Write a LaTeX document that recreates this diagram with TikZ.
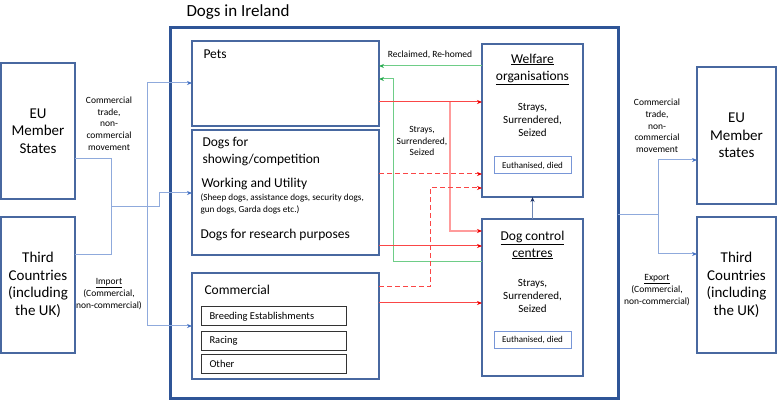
\documentclass[tikz,border=0pt]{standalone}
\usepackage{fontspec}
\setmainfont{Carlito}
\usetikzlibrary{arrows.meta}
\definecolor{frameblue}{RGB}{47,85,151}
\definecolor{boxblue}{RGB}{72,104,160}
\definecolor{lineblue}{RGB}{143,170,220}
\definecolor{arrowblue}{RGB}{68,114,196}
\definecolor{euthblue}{RGB}{120,150,215}
\definecolor{myred}{RGB}{250,70,70}
\definecolor{tipred}{RGB}{240,0,0}
\definecolor{mypink}{RGB}{255,155,155}
\definecolor{mygreen}{RGB}{110,205,135}
\definecolor{tipgreen}{RGB}{40,170,80}
\definecolor{mynavy}{RGB}{25,45,95}
\tikzset{
  box/.style={draw=boxblue, line width=1.2pt, rectangle, outer sep=0pt, inner sep=0pt},
  innerbox/.style={draw=black!80, line width=1pt, rectangle, outer sep=0pt, inner sep=0pt},
  euthbox/.style={draw=euthblue, line width=1pt, rectangle, outer sep=0pt, inner sep=0pt, font=\fontsize{9}{10}\selectfont},
  bline/.style={color=lineblue, line width=1pt},
  btip/.style={-{Stealth[length=5pt,width=4pt,color=arrowblue]}},
  rline/.style={color=myred, line width=1pt, -{Stealth[length=5pt,width=4pt,color=tipred]}},
  rdash/.style={color=myred, line width=1pt, -{Stealth[length=5pt,width=4pt,color=tipred]}, dash pattern=on 5pt off 3pt},
  pline/.style={color=mypink, line width=1.3pt, -{Stealth[length=5pt,width=4pt,color=tipred]}},
  gline/.style={color=mygreen, line width=1pt, -{Stealth[length=5pt,width=4pt,color=tipgreen]}},
  big/.style={font=\fontsize{15}{17.5}\selectfont},
  mid/.style={font=\fontsize{13.5}{17}\selectfont},
  lab/.style={font=\fontsize{9.5}{11.7}\selectfont, align=center},
  small/.style={font=\fontsize{9.2}{12}\selectfont, align=left}
}
\begin{document}
\begin{tikzpicture}[x=1pt,y=-1pt]
\useasboundingbox (0,0) rectangle (777,406);
% title and frame
\node[font=\fontsize{17}{20}\selectfont, anchor=west] (title) at (183,12) {Dogs in Ireland};
\node[draw=frameblue, line width=3pt, rectangle, outer sep=0pt, inner sep=0pt, anchor=north west, minimum width=448pt, minimum height=370pt] (frame) at (170,28) {};
% left boxes
\node[box, big, align=center, minimum width=74pt, minimum height=136pt] (eul) at (38,131) {EU\\Member\\States};
\node[box, big, align=center, minimum width=74pt, minimum height=136pt] (tcl) at (38,285) {Third\\Countries\\(including\\the UK)};
% right boxes
\node[box, big, align=center, minimum width=79pt, minimum height=137pt] (eur) at (736.5,135.5) {EU\\Member\\states};
\node[box, big, align=center, minimum width=79pt, minimum height=136pt] (tcr) at (736.5,285) {Third\\Countries\\(including\\the UK)};
% inner boxes
\node[box, anchor=north west, minimum width=187pt, minimum height=85pt] (pets) at (192,41) {};
\node[box, anchor=north west, minimum width=187pt, minimum height=125pt] (dogs) at (192,130) {};
\node[box, anchor=north west, minimum width=187pt, minimum height=106pt] (comm) at (192,273) {};
\node[mid, anchor=west] (petst) at (200,54) {Pets};
\node[mid, anchor=west, align=left] (showt) at (199,151.5) {Dogs for\\showing/competition};
\node[mid, anchor=west] (workt) at (198,184) {Working and Utility};
\node[small, anchor=west] (workd) at (197,204) {(Sheep dogs, assistance dogs, security dogs,\\gun dogs, Garda dogs etc.)};
\node[mid, anchor=west] (rest) at (197,235) {Dogs for research purposes};
\node[mid, anchor=west] (commt) at (201,290) {Commercial};
\node[innerbox, anchor=north west, minimum width=145pt, minimum height=19pt] (breed) at (201,307) {};
\node[innerbox, anchor=north west, minimum width=145pt, minimum height=19pt] (racing) at (201,331) {};
\node[innerbox, anchor=north west, minimum width=145pt, minimum height=19pt] (other) at (201,354) {};
\node[font=\fontsize{10.5}{12}\selectfont, anchor=west] at ([xshift=5pt]breed.west) {Breeding Establishments};
\node[font=\fontsize{10.5}{12}\selectfont, anchor=west] at ([xshift=5pt]racing.west) {Racing};
\node[font=\fontsize{10.5}{12}\selectfont, anchor=west] at ([xshift=5pt]other.west) {Other};
% welfare and dog control
\node[box, anchor=north west, minimum width=101pt, minimum height=153pt] (welf) at (482,44) {};
\node[box, anchor=north west, minimum width=101pt, minimum height=157pt] (dcc) at (482,219) {};
\node[mid, align=center] (welft) at (532.5,69) {\underline{Welfare}\\\underline{organisations}};
\node[font=\fontsize{11}{12.8}\selectfont, align=center] (welfs) at (532.5,120) {Strays,\\Surrendered,\\Seized};
\node[euthbox, minimum width=77pt, minimum height=17pt] (welfe) at (532.5,165.5) {Euthanised, died};
\node[mid, align=center] (dcct) at (532.5,245) {\underline{Dog control}\\\underline{centres}};
\node[font=\fontsize{11}{12.8}\selectfont, align=center] (dccs) at (532.5,296) {Strays,\\Surrendered,\\Seized};
\node[euthbox, minimum width=77pt, minimum height=17pt] (dcce) at (532.5,339.5) {Euthanised, died};
% labels
\node[lab] (labl) at (109,123.5) {Commercial\\trade,\\non-\\commercial\\movement};
\node[lab] (impl) at (109,294) {\underline{Import}\\(Commercial,\\non-commercial)};
\node[lab] (labr) at (657,126) {Commercial\\trade,\\non-\\commercial\\movement};
\node[lab] (expr) at (657,290) {\underline{Export}\\(Commercial,\\non-commercial)};
\node[lab] (recl) at (430,55) {Reclaimed, Re-homed};
\node[lab] (ssl) at (422,141) {Strays,\\Surrendered,\\Seized};
% left import connectors
\coordinate (a1) at (111,159);
\coordinate (a2) at (111,255);
\coordinate (a3) at (159,207);
\coordinate (a4) at (147,83);
\coordinate (a5) at (147,326);
\coordinate (a6) at (159,193);
\draw[bline] (a1 -| eul.east) -- (a1) -- (a2) -- (a2 -| tcl.east);
\draw[bline] (111,207) -- (a3);
\draw[bline, btip] (a3) -- (a6) -- (a6 -| dogs.west);
\draw[bline, btip] (a4) -- (a4 -| pets.west);
\draw[bline] (a4) -- (a5);
\draw[bline, btip] (a5) -- (a5 -| comm.west);
% right export connectors
\coordinate (b1) at (658,215);
\coordinate (b2) at (658,160);
\coordinate (b3) at (658,254);
\draw[bline] (b1 -| frame.east) -- (b1);
\draw[bline, btip] (b1) -- (b2) -- (b2 -| eur.west);
\draw[bline, btip] (b1) -- (b3) -- (b3 -| tcr.west);
% dog control to welfare
\draw[color=boxblue!80, line width=1pt, -{Stealth[length=5pt,width=4pt,color=mynavy]}] (dcc.north) -- (welf.south);
% green
\coordinate (g1) at (482,66);
\coordinate (g2) at (393,262);
\coordinate (g3) at (393,79);
\draw[gline] (g1 -| welf.west) -- (g1 -| pets.east);
\draw[gline] (g2 -| dcc.west) -- (g2) -- (g3) -- (g3 -| pets.east);
% red
\coordinate (r1) at (379,102);
\coordinate (p1) at (450,102);
\coordinate (p2) at (450,231);
\draw[pline] (p1) -- (p2) -- (p2 -| dcc.west);
\draw[rline] (r1 -| pets.east) -- (r1 -| welf.west);
\coordinate (r2) at (379,174);
\draw[rdash] (r2 -| dogs.east) -- (r2 -| welf.west);
\coordinate (r3) at (430,287);
\coordinate (r4) at (430,188);
\draw[rdash] (r3 -| comm.east) -- (r3) -- (r4) -- (r4 -| welf.west);
\coordinate (r5) at (379,246);
\draw[rline] (r5 -| dogs.east) -- (r5 -| dcc.west);
\coordinate (r6) at (379,303);
\draw[rline] (r6 -| comm.east) -- (r6 -| dcc.west);
\end{tikzpicture}
\end{document}
